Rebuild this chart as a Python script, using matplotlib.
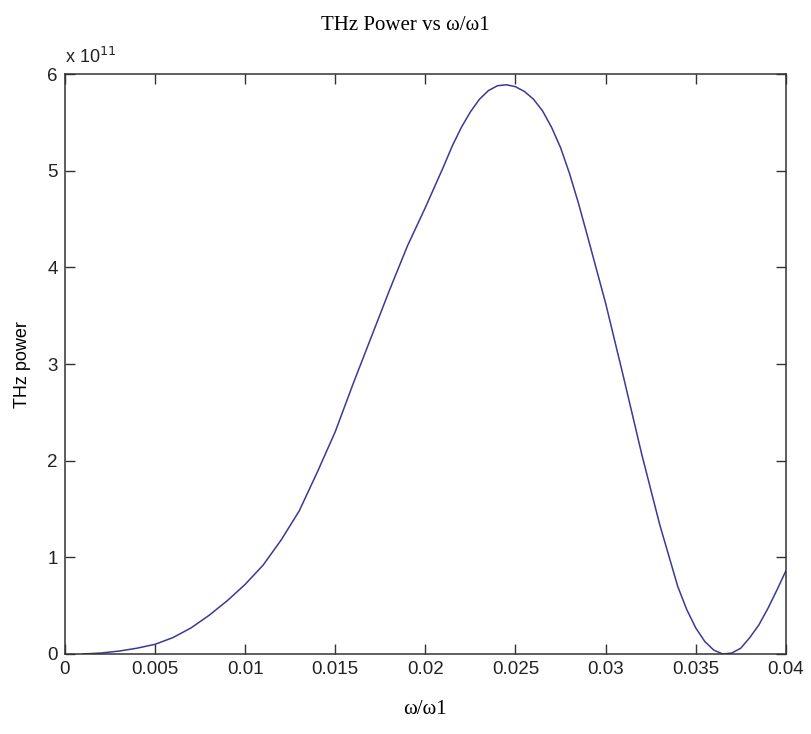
import numpy as np
import matplotlib.pyplot as plt
from matplotlib.ticker import FixedLocator, FuncFormatter

# omega/omega1 and THz power (in units of 1e11)
w_ratio = [0.001, 0.002, 0.003, 0.004, 0.005, 0.006, 0.007, 0.008, 0.009, 0.010,
           0.011, 0.012, 0.013, 0.014, 0.015, 0.016, 0.017, 0.018, 0.019, 0.020,
           0.021, 0.0215, 0.022, 0.0225, 0.023, 0.0235, 0.024, 0.0245, 0.025, 0.0255,
           0.026, 0.0265, 0.027, 0.0275, 0.028, 0.0285, 0.029,
           0.030, 0.031, 0.032, 0.033, 0.034, 0.0345, 0.035, 0.0355, 0.036, 0.0365, 0.037,
           0.0375, 0.038, 0.0385, 0.039, 0.0395, 0.040]
power_e11 = [0.0, 0.01, 0.03, 0.06, 0.10, 0.17, 0.27, 0.40, 0.55, 0.72,
             0.92, 1.18, 1.48, 1.88, 2.30, 2.80, 3.28, 3.76, 4.22, 4.62,
             5.04, 5.26, 5.45, 5.61, 5.74, 5.83, 5.88, 5.89, 5.87, 5.82,
             5.74, 5.62, 5.45, 5.24, 4.97, 4.66, 4.32,
             3.63, 2.86, 2.07, 1.34, 0.70, 0.46, 0.27, 0.13, 0.04, 0.0, 0.01,
             0.06, 0.17, 0.30, 0.47, 0.66, 0.86]

x_ticks = [0, 0.005, 0.01, 0.015, 0.02, 0.025, 0.03, 0.035, 0.04]
x_tick_labels = ["0", "0.005", "0.01", "0.015", "0.02", "0.025", "0.03", "0.035", "0.04"]
y_ticks = [0, 1, 2, 3, 4, 5, 6]

tick_font = ["Liberation Sans Narrow", "Liberation Sans", "DejaVu Sans"]
serif_font = ["Liberation Serif", "DejaVu Serif"]

fig = plt.figure(figsize=(8.11, 7.34), dpi=100)
ax = fig.add_axes([0.080, 0.109, 0.889, 0.790])

ax.plot(w_ratio, power_e11, color="#3a3a94", lw=1.1)

ax.set_xlim(0, 0.04)
ax.set_ylim(0, 6)
ax.xaxis.set_major_locator(FixedLocator(x_ticks))
ax.set_xticklabels(x_tick_labels)
ax.yaxis.set_major_locator(FixedLocator(y_ticks))
ax.yaxis.set_major_formatter(FuncFormatter(lambda v, p: "%d" % v))

ax.tick_params(direction="in", length=7, width=1, color="#333333",
               top=True, right=True, labelsize=13.5, labelcolor="#222222", pad=5)
for lab in ax.get_xticklabels() + ax.get_yticklabels():
    lab.set_family(tick_font)
for s in ax.spines.values():
    s.set_linewidth(1.1)
    s.set_color("#333333")

ax.text(0.0, 1.012, "x 10$^{11}$", transform=ax.transAxes, fontsize=13,
        family=tick_font, ha="left", va="bottom", color="#222222")

ax.set_ylabel("THz power", fontsize=13, family=tick_font, labelpad=12)
ax.set_xlabel("ω/ω1", fontsize=15, family=serif_font, labelpad=16)
fig.text(0.5, 0.965, "THz Power vs ω/ω1", fontsize=15, family=serif_font,
         ha="center", va="center")

fig.savefig("out.png", dpi=100)
